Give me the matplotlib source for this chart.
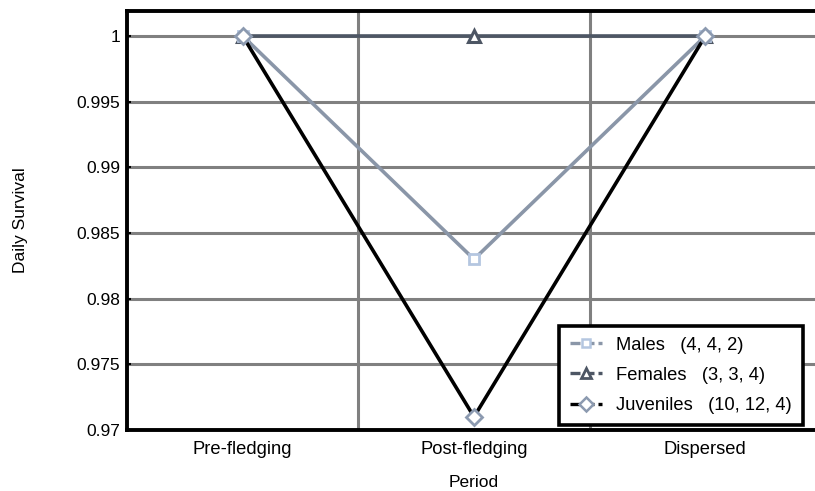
import matplotlib
matplotlib.use("Agg")
import matplotlib.pyplot as plt
from matplotlib.lines import Line2D

plt.rcParams['font.family'] = ['Liberation Sans', 'DejaVu Sans']

periods = ["Pre-fledging", "Post-fledging", "Dispersed"]
males = [1.0, 0.983, 1.0]
females = [1.0, 1.0, 1.0]
juveniles = [1.0, 0.971, 1.0]
yticks = [0.97, 0.975, 0.98, 0.985, 0.99, 0.995, 1.0]
ytick_labels = ["0.97", "0.975", "0.98", "0.985", "0.99", "0.995", "1"]
series_labels = ["Males   (4, 4, 2)", "Females   (3, 3, 4)", "Juveniles   (10, 12, 4)"]

FS = 12.5

fig = plt.figure(figsize=(8.15, 4.91), dpi=100)
ax = fig.add_axes([127 / 815, 1 - 430 / 491, 694 / 815, 419 / 491])

x = list(range(len(periods)))

ax.plot(x, females, color="#4d5664", lw=2.6, marker="^", ms=8,
        mfc="white", mec="#4d5664", mew=2.2, zorder=3)
ax.plot(x, males, color="#8a96a8", lw=2.6, marker="s", ms=7,
        mfc="white", mec="#b4c6e0", mew=2, zorder=4)
ax.plot(x, juveniles, color="black", lw=2.6, marker="D", ms=8,
        mfc="white", mec="#8c9ab0", mew=2, zorder=5)

# legend samples use short dashed lines
handles = [
    Line2D([], [], color="#8a96a8", lw=2.4, ls=(0, (3, 1.2)), marker="s", ms=6,
           mfc="white", mec="#b4c6e0", mew=1.8),
    Line2D([], [], color="#4d5664", lw=2.4, ls=(0, (3, 1.2)), marker="^", ms=7,
           mfc="white", mec="#4d5664", mew=2),
    Line2D([], [], color="black", lw=2.4, ls=(0, (3, 1.2)), marker="D", ms=7,
           mfc="white", mec="#8c9ab0", mew=1.8),
]
leg = ax.legend(handles, series_labels, loc="lower right", fancybox=False,
                framealpha=1, edgecolor="black", fontsize=13.2,
                handlelength=1.75, borderpad=0.6, labelspacing=0.72,
                handletextpad=0.8, borderaxespad=0)
leg.get_frame().set_linewidth(2.6)
leg.set_bbox_to_anchor((803 / 815, 1 - 425 / 491), transform=fig.transFigure)
leg.set_zorder(10)

ax.set_xlim(-0.5, 2.5)
ax.set_ylim(0.97, 1.0019)
ax.set_yticks(yticks)
ax.set_yticklabels(ytick_labels)
ax.set_xticks(x)
ax.set_xticklabels(periods, fontsize=13.2)

# horizontal grid on the ticks, vertical grid between periods
for y in yticks[1:]:
    ax.axhline(y, color="#808080", lw=2.2, zorder=1)
for xb in [0.5, 1.5]:
    ax.axvline(xb, color="#808080", lw=2.2, zorder=1)

for side in ["left", "bottom", "top", "right"]:
    ax.spines[side].set_linewidth(2.8)
    ax.spines[side].set_color("black")

ax.tick_params(axis="y", labelsize=FS, length=3, width=1.5, colors="black",
               direction="in", pad=5)
ax.tick_params(axis="x", length=0, pad=8, colors="black")

ax.set_xlabel("Period", fontsize=FS, labelpad=12)
ax.set_ylabel("Daily Survival", fontsize=FS, labelpad=35)

fig.savefig("out.png", dpi=100)
